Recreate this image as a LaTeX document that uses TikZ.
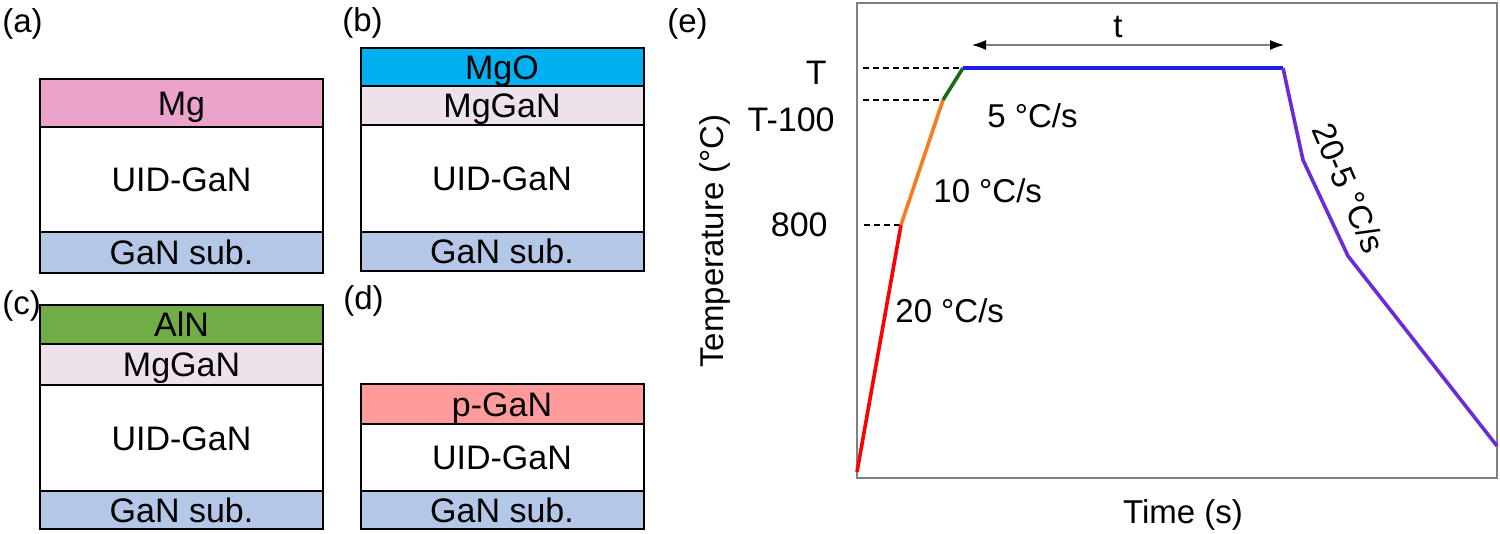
\documentclass[tikz,border=0pt]{standalone}
\usepackage{fontspec}
\setmainfont{Liberation Sans}
\usetikzlibrary{arrows.meta}
\definecolor{cMg}{HTML}{EBA2CB}
\definecolor{cMgO}{HTML}{00B0F0}
\definecolor{cMgGaN}{HTML}{EDE1EC}
\definecolor{cAlN}{HTML}{70AD47}
\definecolor{cpGaN}{HTML}{FF9B9B}
\definecolor{csub}{HTML}{B4C7E7}
\definecolor{cRed}{HTML}{FF0000}
\definecolor{cOrange}{HTML}{F57C20}
\definecolor{cGreen}{HTML}{1A6B1A}
\definecolor{cBlue}{HTML}{1E1EE6}
\definecolor{cPurple}{HTML}{6C2BD9}
\begin{document}
\begin{tikzpicture}[x=0.5pt,y=-0.5pt,
  lbl/.style={font=\fontsize{16.5}{19}\selectfont, inner sep=0pt},
  ticklbl/.style={font=\fontsize{17}{20}\selectfont, inner sep=0pt},
  layer/.style={draw=black, line width=1pt, minimum width=141.5pt, minimum height=#1,
    inner sep=0pt, font=\fontsize{17}{20}\selectfont, text height=12.2pt, text depth=0pt},
  curve/.style={line width=1.8pt, line join=round},
  guide/.style={dashed, line width=0.7pt, dash pattern=on 3pt off 2pt},
  frame/.style={draw=gray, line width=0.7pt}
]
\useasboundingbox (0,0) rectangle (1500,534);

% (a)
\node[lbl, anchor=base west] (la) at (2,33) {(a)};
\node[layer=24pt, fill=cMg] (aMg) at (181.5,103) {Mg};
\node[layer=52.5pt, fill=white] (aUID) at (181.5,179.5) {UID-GaN};
\node[layer=20.5pt, fill=csub] (aSub) at (181.5,252.5) {GaN sub.};

% (b)
\node[lbl, anchor=base west] (lb) at (342,32) {(b)};
\node[layer=19pt, fill=cMgO] (bMgO) at (502,67) {MgO};
\node[layer=19.5pt, fill=cMgGaN] (bMgGaN) at (502,105.5) {MgGaN};
\node[layer=53.5pt, fill=white] (bUID) at (502,178.5) {UID-GaN};
\node[layer=19.5pt, fill=csub] (bSub) at (502,251.5) {GaN sub.};

% (c)
\node[lbl, anchor=base west] (lc) at (2,315) {(c)};
\node[layer=19.5pt, fill=cAlN] (cAlNl) at (181.5,324.5) {AlN};
\node[layer=20.5pt, fill=cMgGaN] (cMgGaNl) at (181.5,364.5) {MgGaN};
\node[layer=53pt, fill=white] (cUID) at (181.5,438) {UID-GaN};
\node[layer=19pt, fill=csub] (cSub) at (181.5,510) {GaN sub.};

% (d)
\node[lbl, anchor=base west] (ld) at (343,310) {(d)};
\node[layer=20pt, fill=cpGaN] (dp) at (502,404) {p-GaN};
\node[layer=33.5pt, fill=white] (dUID) at (502,457.5) {UID-GaN};
\node[layer=19pt, fill=csub] (dSub) at (502,510) {GaN sub.};

% (e)
\node[lbl, anchor=base west] (le) at (667,33) {(e)};
\coordinate (f1) at (857,3);
\coordinate (f2) at (1497,478);
\draw[frame] (f1) rectangle (f2);

\coordinate (p0) at (857,472);
\coordinate (p1) at (901,225);
\coordinate (p2) at (943,100);
\coordinate (p3) at (963,68);
\coordinate (p4) at (1283,68);
\coordinate (p5) at (1303,160);
\coordinate (p6) at (1348,256);
\coordinate (p7) at (1497,446);

\coordinate (d1) at (863,68);
\coordinate (d2) at (863,100);
\coordinate (d3) at (864,225);
\draw[guide] (d1) -- (p3);
\draw[guide] (d2) -- (p2);
\draw[guide] (d3) -- (p1);

\draw[curve, cRed] (p0) -- (p1);
\draw[curve, cOrange] (p1) -- (p2);
\draw[curve, cGreen] (p2) -- (p3);
\draw[curve, cBlue] (p3) -- (p4);
\draw[curve, cPurple] (p4) -- (p5) -- (p6) -- (p7);

\coordinate (a1) at (972,45);
\coordinate (a2) at (1284,45);
\draw[gray, line width=0.6pt, {Latex[black,length=7pt,width=5pt]}-{Latex[black,length=7pt,width=5pt]}] (a1) -- (a2);
\node[lbl, anchor=base] (tl) at (1118,38) {t};

\node[ticklbl, anchor=base east] (tT) at (827,85) {T};
\node[ticklbl, anchor=base east] (tT100) at (835,132) {T-100};
\node[ticklbl, anchor=base east] (t800) at (828,237) {800};

\node[lbl, anchor=base west] (r5) at (987,128) {5 °C/s};
\node[lbl, anchor=base west] (r10) at (933,203) {10 °C/s};
\node[lbl, anchor=base west] (r20) at (895,322) {20 °C/s};
\node[lbl, rotate=-67] (rdown) at (1349,188) {20-5 °C/s};

\node[lbl, rotate=90, anchor=base] (ylab) at (723,241) {Temperature (°C)};
\node[lbl, anchor=base] (xlab) at (1183,523) {Time (s)};
\end{tikzpicture}
\end{document}
